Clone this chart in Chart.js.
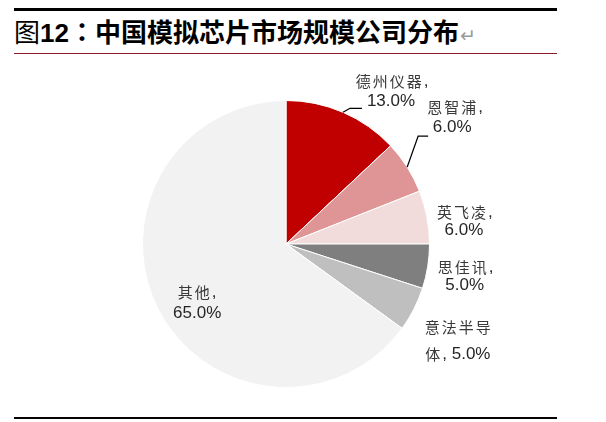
<!DOCTYPE html>
<html>
<head>
<meta charset="utf-8">
<script src="https://cdn.jsdelivr.net/npm/chart.js@4.4.1/dist/chart.umd.min.js"></script>
<style>
  html, body { margin: 0; padding: 0; background: #fff; }
  #page { position: relative; width: 606px; height: 422px; overflow: hidden; }
  .rule { position: absolute; left: 14px; width: 543px; }
  #topRule { top: 8px; height: 3px; background: #000; }
  #redRule { top: 53px; height: 1px; background: #8c1c2c; }
  #bottomRule { top: 417px; height: 2px; background: #000; }
  #title {
    position: absolute; left: 14px; top: 16px; white-space: nowrap;
    font-family: "Noto Sans CJK SC", sans-serif; font-size: 26px; line-height: 30px; color: #000;
  }
  #title b { font-weight: bold; }
  #title .num { font-family: "Liberation Sans", Arial, sans-serif; }
  #title .colon { font-family: "Noto Sans CJK TC", sans-serif; }
  #title .mark { font-family: "DejaVu Sans", sans-serif; font-size: 19px; color: #999; margin-left: 1px; }
  #chartBox { position: absolute; left: 0; top: 0; width: 606px; height: 422px; }
</style>
</head>
<body>
<div id="page">
  <div class="rule" id="topRule"></div>
  <div id="title">图<b><span class="num">12</span><span class="colon">：</span>中国模拟芯片市场规模公司分布</b><span class="mark">↵</span></div>
  <div class="rule" id="redRule"></div>
  <div id="chartBox"><canvas id="pie"></canvas></div>
  <div class="rule" id="bottomRule"></div>
</div>
<script>
// Data
const companies = ["德州仪器", "恩智浦", "英飞凌", "思佳讯", "意法半导体", "其他"];
const shares = [13, 6, 6, 5, 5, 65];
const sliceColors = ["#c00000", "#df9595", "#f2dcdb", "#7f7f7f", "#bfbfbf", "#f2f2f2"];

// how many chars of "name, xx.x%" go on the first line
const wrapAt = [5, 4, 4, 4, 4, 3];

// label placement, offsets from the slice's outer mid point
const labelLayout = [
  { l1: [49, -31], l2: [48, -11], lead: [[7, -4], [19, -4]] },
  { l1: [48, -60], l2: [45, -40], lead: [[11, -31], [21, -31]] },
  { l1: [38, -5], l2: [37, 13] },
  { l1: [38, 1], l2: [37, 19] },
  { l1: [45, 18], l2: [44, 45] },
  { l1: [39, -17], l2: [39, 4] },
];

const cjkFont = "15px 'Noto Sans CJK SC'";
const latinFont = "17px 'Liberation Sans', Arial";

function labelLines(i) {
  const full = companies[i] + ", " + shares[i].toFixed(1) + "%";
  return [full.slice(0, wrapAt[i]).trim(), full.slice(wrapAt[i]).trim()];
}

// split text into CJK / latin runs so each gets its own font
function runs(txt) {
  const out = [];
  for (const ch of txt) {
    const cjk = /[\u4e00-\u9fff]/.test(ch);
    if (out.length && out[out.length - 1].cjk === cjk) out[out.length - 1].t += ch;
    else out.push({ t: ch, cjk });
  }
  return out;
}

function setFont(ctx, cjk) {
  ctx.font = cjk ? cjkFont : latinFont;
  ctx.letterSpacing = cjk ? "2px" : "0px";
  ctx.fillStyle = cjk ? "#3a3a3a" : "#262626";
}

function drawMixed(ctx, txt, cx, cy) {
  const parts = runs(txt);
  let total = 0;
  parts.forEach(p => { setFont(ctx, p.cjk); p.w = ctx.measureText(p.t).width; total += p.w; });
  let x = cx - total / 2;
  parts.forEach(p => { setFont(ctx, p.cjk); ctx.fillText(p.t, x, cy); x += p.w; });
}

// draw outside labels + leader lines
const pieLabels = {
  id: "pieLabels",
  afterDatasetsDraw(chart) {
    const ctx = chart.ctx;
    const arcs = chart.getDatasetMeta(0).data;
    ctx.save();
    ctx.textAlign = "left";
    ctx.textBaseline = "middle";
    arcs.forEach((arc, i) => {
      const p = arc.getProps(["x", "y", "startAngle", "endAngle", "outerRadius"], true);
      const mid = (p.startAngle + p.endAngle) / 2;
      const ex = p.x + Math.cos(mid) * p.outerRadius;
      const ey = p.y + Math.sin(mid) * p.outerRadius;
      const lay = labelLayout[i];
      if (lay.lead) {
        ctx.beginPath();
        ctx.moveTo(ex, ey);
        lay.lead.forEach(pt => ctx.lineTo(ex + pt[0], ey + pt[1]));
        ctx.strokeStyle = "#000";
        ctx.lineWidth = 1.3;
        ctx.stroke();
      }
      const lines = labelLines(i);
      drawMixed(ctx, lines[0], ex + lay.l1[0], ey + lay.l1[1]);
      drawMixed(ctx, lines[1], ex + lay.l2[0], ey + lay.l2[1]);
    });
    ctx.restore();
  },
};

new Chart(document.getElementById("pie"), {
  type: "pie",
  data: {
    labels: companies,
    datasets: [{
      data: shares,
      backgroundColor: sliceColors,
      borderColor: "#ffffff",
      borderWidth: 1,
      hoverOffset: 0,
    }],
  },
  options: {
    responsive: true,
    maintainAspectRatio: false,
    animation: false,
    layout: { padding: { left: 142, top: 100, right: 176, bottom: 34 } },
    plugins: {
      legend: { display: false },
      tooltip: { enabled: false },
    },
  },
  plugins: [pieLabels],
});
</script>
</body>
</html>
